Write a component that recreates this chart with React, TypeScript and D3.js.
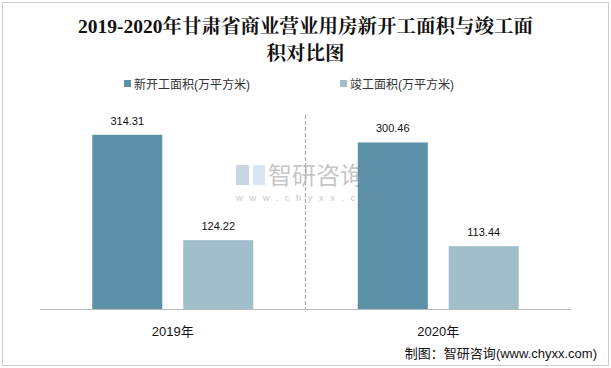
import React from "react";
import * as d3 from "d3";

const categories = ["2019年", "2020年"];
const seriesNames = ["新开工面积(万平方米)", "竣工面积(万平方米)"];
const newStart = [314.31, 300.46];
const completed = [124.22, 113.44];
const titleLines = ["2019-2020年甘肃省商业营业用房新开工面积与竣工面", "积对比图"];

const W = 611, H = 368;
const colors = ["#5C90A6", "#A1BECB"];

export default function App() {
  const x0 = d3.scaleBand<string>().domain(categories).range([40, 571]);
  const x1 = d3.scaleBand<number>().domain([0, 1]).range([0, 161]).paddingInner(0.23);
  const y = d3.scaleLinear().domain([0, 350]).range([309, 115]);
  const series = [newStart, completed];
  const cjk = '"Noto Sans CJK SC", "Liberation Sans", sans-serif';
  const sans = '"Liberation Sans", Arial, "Noto Sans CJK SC", sans-serif';
  return (
    <svg width={W} height={H} style={{ position: "absolute", left: 0, top: 0, background: "#fff" }}>
      <rect x={2.5} y={2.5} width={W - 5} height={H - 5} fill="#fff" stroke="#999" strokeDasharray="1,1" />
      {titleLines.map((t, i) => (
        <text key={i} x={305.5} y={33 + i * 27} textAnchor="middle" fontSize={19.5} fontWeight="bold"
          fontFamily='"Liberation Serif", "Noto Serif CJK SC", "Noto Sans CJK SC", serif' fill="#111">{t}</text>
      ))}
      {seriesNames.map((s, i) => (
        <g key={s} transform={`translate(${124 + i * 216},84)`}>
          <rect x={0} y={-4} width={7} height={7} fill={colors[i]} />
          <text x={10} y={4.5} fontSize={12} fontFamily={sans} fill="#333">{s}</text>
        </g>
      ))}
      {/* watermark */}
      <g opacity={0.55}>
        <rect x={236} y={165} width={13} height={20} fill="#9FB3CF" />
        <rect x={253} y={165} width={12} height={20} fill="#B9D3EA" />
        <text x={268} y={184} fontSize={24} fontFamily={cjk} fill="#999">智研咨询</text>
        <text x={236} y={201} fontSize={9.5} fontFamily={sans} fill="#999" letterSpacing={6.5}>www.chyxx.com</text>
      </g>
      <line x1={305.5} x2={305.5} y1={115} y2={309} stroke="#aaa" strokeWidth={1.2} strokeDasharray="4,2" />
      {categories.map((c, ci) => {
        const base = (x0(c) as number) + (x0.bandwidth() - 161) / 2;
        return (
          <g key={c}>
            {series.map((vals, si) => {
              const bx = base + (x1(si) as number);
              return (
                <g key={si}>
                  <rect x={bx} y={y(vals[ci])} width={x1.bandwidth()} height={309 - y(vals[ci])} fill={colors[si]} />
                  <text x={bx + x1.bandwidth() / 2} y={y(vals[ci]) - 10} textAnchor="middle" fontSize={11}
                    fontFamily={sans} fill="#111">{vals[ci].toFixed(2)}</text>
                </g>
              );
            })}
            <text x={(x0(c) as number) + x0.bandwidth() / 2} y={336} textAnchor="middle" fontSize={13}
              fontFamily={sans} fill="#111">{c}</text>
          </g>
        );
      })}
      <line x1={40} x2={571} y1={309.5} y2={309.5} stroke="#bbb" strokeWidth={1} />
      <text x={597} y={358} textAnchor="end" fontSize={13} fontFamily={cjk} fill="#111">
        制图：智研咨询<tspan fontFamily={sans}>(www.chyxx.com)</tspan>
      </text>
    </svg>
  );
}
